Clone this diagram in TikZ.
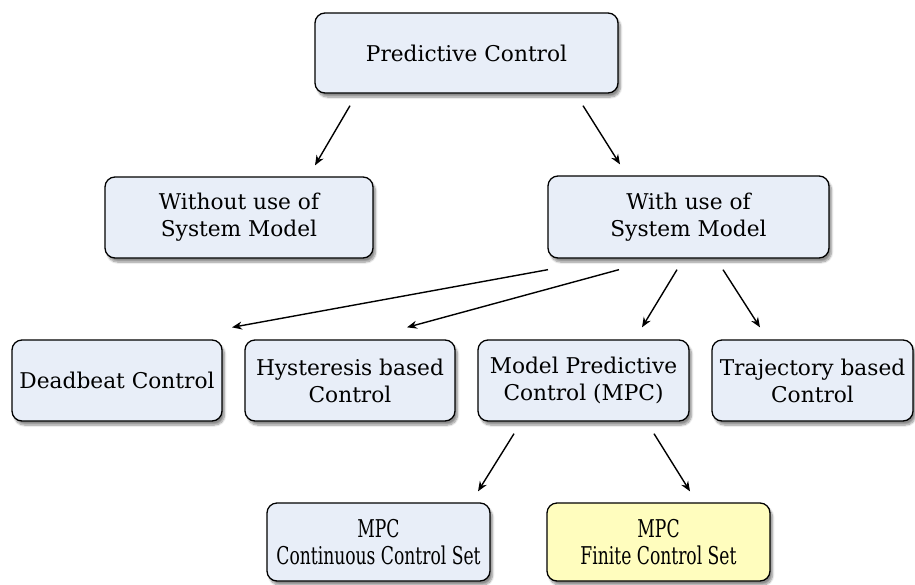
\documentclass[tikz,border=0pt]{standalone}
\usepackage{fontspec}
\setmainfont{DejaVu Serif}
\newfontfamily\condserif[FakeStretch=0.7]{DejaVu Serif}
\usetikzlibrary{shadows.blur,arrows.meta}
\definecolor{boxblue}{HTML}{E8EEF8}
\definecolor{boxyellow}{HTML}{FFFDBE}
\tikzset{
  box/.style={draw=black, line width=1.3pt, rounded corners=10pt, fill=boxblue,
    align=center, inner sep=0pt, font=\fontsize{21.7}{27}\selectfont,
    blur shadow={shadow xshift=2.5pt, shadow yshift=-4pt, shadow blur steps=8, shadow opacity=45}},
  lowbox/.style={box, font=\condserif\fontsize{24.5}{27}\selectfont},
  conn/.style={line width=1.4pt, -{Stealth[length=10pt,width=8pt]}},
}
\begin{document}
\begin{tikzpicture}[x=1pt,y=-1pt]
\useasboundingbox (0,0) rectangle (915,584);
\node[box, minimum width=303pt, minimum height=80pt] (pc) at (466.5,53) {Predictive Control};
\node[box, minimum width=268pt, minimum height=81pt] (wo) at (239,217.5) {Without use of\\System Model};
\node[box, minimum width=281pt, minimum height=82pt] (wi) at (688.5,217) {With use of\\System Model};
\node[box, minimum width=210pt, minimum height=81pt] (db) at (117,380.5) {Deadbeat Control};
\node[box, minimum width=210pt, minimum height=81pt] (hy) at (350,380.5) {Hysteresis based\\Control};
\node[box, minimum width=211pt, minimum height=81pt] (mpc) at (583.5,380.5) {Model Predictive\\Control (MPC)};
\node[box, minimum width=201pt, minimum height=81pt] (tr) at (812.5,380.5) {Trajectory based\\Control};
\node[lowbox, minimum width=223pt, minimum height=78pt] (ccs) at (378.5,542) {MPC\\Continuous Control Set};
\node[lowbox, fill=boxyellow, minimum width=223pt, minimum height=78pt] (fcs) at (658.5,542) {MPC\\Finite Control Set};

\draw[conn] ([shift={(-116.5,12)}]pc.south) -- ([shift={(76,-11)}]wo.north);
\draw[conn] ([shift={(116.5,12)}]pc.south) -- ([shift={(-68.5,-11)}]wi.north);
\draw[conn] ([shift={(-140.5,11)}]wi.south) -- ([shift={(115,-12)}]db.north);
\draw[conn] ([shift={(-69.5,11)}]wi.south) -- ([shift={(57,-12)}]hy.north);
\draw[conn] ([shift={(-11.5,11)}]wi.south) -- ([shift={(58.5,-12)}]mpc.north);
\draw[conn] ([shift={(34.5,11)}]wi.south) -- ([shift={(-52.5,-12)}]tr.north);
\draw[conn] ([shift={(-69.5,12)}]mpc.south) -- ([shift={(99.5,-11)}]ccs.north);
\draw[conn] ([shift={(70.5,12)}]mpc.south) -- ([shift={(31.5,-11)}]fcs.north);
\end{tikzpicture}
\end{document}
